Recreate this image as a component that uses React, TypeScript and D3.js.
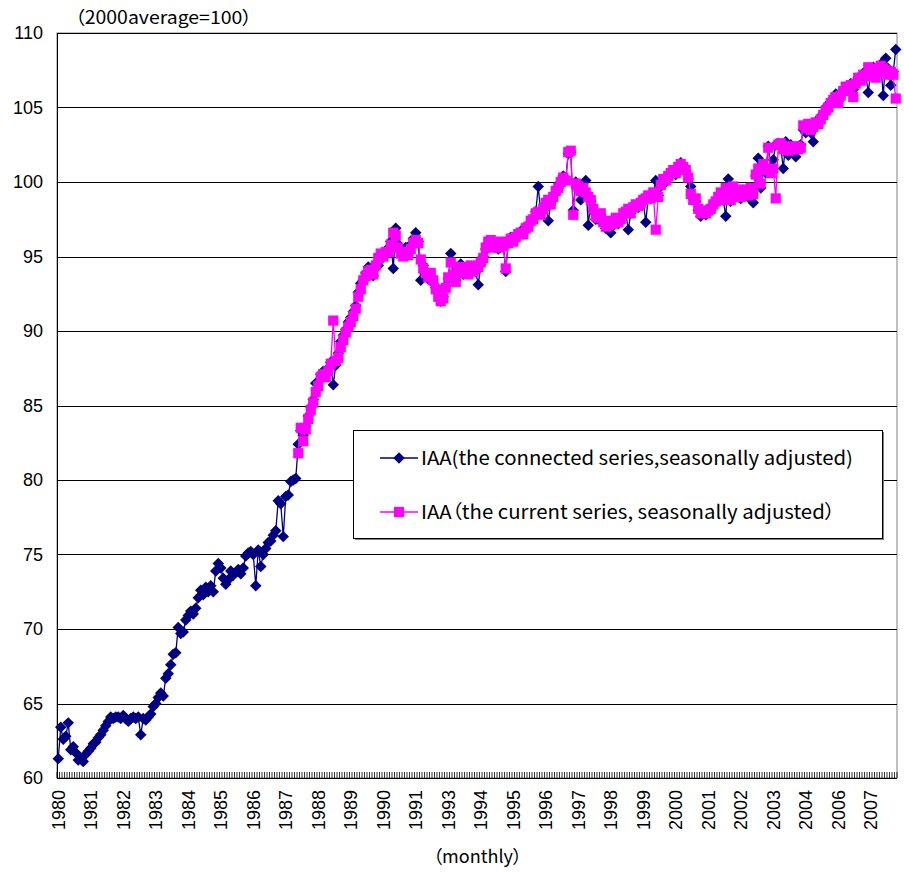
import React from "react";
import * as d3 from "d3";

const startYear = 1980;
const endYear = 2007;
const monthIndex = d3.range((endYear - startYear + 1) * 12);
const categoryYear = monthIndex.map((i) => startYear + Math.floor(i / 12));
const labelEvery = 13;

// IAA (the connected series, seasonally adjusted), 1980-01 .. 2007-12
const connected: number[] = [
  // 1980
  61.3, 63.4, 62.6, 62.8, 63.7, 61.9, 62.1, 61.7, 61.2, 61.3, 61.1, 61.6,
  // 1981
  61.8, 62.0, 62.3, 62.4, 62.7, 62.9, 63.2, 63.5, 63.8, 64.1, 64.0, 64.1,
  // 1982
  64.1, 64.0, 64.2, 64.0, 63.8, 64.0, 64.1, 64.0, 64.1, 62.9, 64.0, 63.9,
  // 1983
  64.1, 64.3, 64.8, 65.0, 65.4, 65.7, 65.5, 66.7, 67.0, 67.6, 68.3, 68.4,
  // 1984
  70.1, 69.7, 69.8, 70.6, 70.9, 71.2, 71.0, 71.4, 72.1, 72.6, 72.3, 72.8,
  // 1985
  72.5, 72.9, 72.5, 73.9, 74.4, 74.1, 73.4, 73.0, 73.3, 73.9, 73.6, 73.8,
  // 1986
  74.0, 73.7, 74.1, 74.9, 75.1, 75.2, 75.0, 72.9, 75.3, 74.2, 75.0, 75.4,
  // 1987
  75.8, 75.9, 76.3, 76.6, 78.6, 78.4, 76.2, 78.9, 79.0, 79.9, 80.0, 80.1,
  // 1988
  82.4, 83.3, 83.0, 83.6, 84.3, 84.9, 85.4, 86.5, 86.6, 87.1, 87.3, 87.2,
  // 1989
  87.5, 87.9, 86.4, 87.7, 88.5, 89.3, 89.7, 90.1, 90.6, 90.9, 91.3, 91.7,
  // 1990
  92.6, 93.2, 93.4, 93.9, 94.3, 94.0, 93.7, 94.5, 94.4, 94.8, 95.1, 95.4,
  // 1991
  95.5, 96.0, 94.2, 96.9, 95.8, 95.3, 95.2, 95.6, 95.4, 95.8, 96.2, 96.6,
  // 1992
  96.0, 93.4, 94.4, 93.8, 93.5, 93.7, 93.2, 92.9, 92.6, 92.0, 92.3, 93.0,
  // 1993
  93.5, 95.2, 93.7, 93.4, 94.2, 94.5, 93.8, 94.0, 94.1, 94.3, 94.1, 94.0,
  // 1994
  93.1, 94.5, 95.0, 95.5, 95.9, 96.0, 95.7, 95.6, 95.5, 95.9, 95.8, 94.0,
  // 1995
  96.0, 96.3, 96.1, 96.4, 96.5, 96.7, 96.6, 96.8, 97.1, 97.3, 97.6, 98.0,
  // 1996
  99.7, 97.9, 98.1, 98.5, 97.4, 98.6, 99.1, 99.3, 99.6, 100.0, 100.4, 100.2,
  // 1997
  101.9, 102.0, 98.1, 100.0, 99.6, 98.8, 99.3, 100.1, 97.1, 98.7, 98.0, 97.5,
  // 1998
  97.5, 97.8, 97.2, 96.9, 97.0, 96.6, 97.1, 97.4, 97.2, 97.6, 97.8, 97.9,
  // 1999
  96.8, 97.9, 98.2, 98.4, 98.3, 98.5, 98.7, 97.3, 99.0, 98.9, 99.2, 100.1,
  // 2000
  99.1, 99.7, 100.1, 100.0, 100.3, 100.5, 100.7, 100.5, 100.9, 101.3, 101.1, 100.7,
  // 2001
  100.2, 99.7, 98.9, 98.7, 98.1, 97.7, 97.9, 97.8, 98.0, 98.1, 98.4, 98.6,
  // 2002
  98.9, 99.2, 98.8, 97.7, 100.2, 98.7, 99.6, 99.2, 99.0, 98.9, 99.4, 99.1,
  // 2003
  99.0, 99.5, 98.6, 100.4, 101.6, 99.6, 101.0, 100.6, 102.4, 100.9, 101.5, 102.5,
  // 2004
  102.6, 102.4, 100.9, 102.7, 101.8, 102.5, 102.3, 101.7, 102.4, 102.5, 103.5, 103.3,
  // 2005
  103.5, 103.3, 102.7, 103.8, 104.2, 104.4, 104.6, 105.0, 105.2, 105.4, 105.6, 105.9,
  // 2006
  105.4, 105.9, 106.2, 106.3, 106.4, 106.6, 106.2, 106.7, 107.0, 106.9, 107.3, 107.2,
  // 2007
  106.0, 107.5, 107.7, 107.2, 107.5, 107.9, 105.8, 108.3, 107.6, 106.5, 107.4, 108.9,
];

// IAA (the current series, seasonally adjusted), 1988-01 .. 2007-12
const currentStart = 96;
const current: number[] = [
  // 1988
  81.8, 83.5, 82.6, 83.4, 84.1, 84.7, 85.2, 85.9, 86.3, 86.9, 87.1, 86.9,
  // 1989
  87.3, 87.8, 90.7, 88.0, 88.2, 88.9, 89.4, 89.9, 90.3, 90.6, 91.0, 91.5,
  // 1990
  92.3, 92.8, 93.4, 93.7, 94.0, 94.1, 93.8, 94.4, 94.9, 95.2, 95.0, 95.3,
  // 1991
  95.3, 95.8, 96.6, 96.4, 95.6, 95.2, 95.0, 95.3, 95.1, 95.5, 95.9, 96.1,
  // 1992
  95.9, 94.8, 94.2, 93.9, 93.6, 93.9, 93.4, 92.8, 92.3, 92.0, 92.2, 92.9,
  // 1993
  93.6, 94.6, 93.8, 93.3, 94.1, 94.3, 93.9, 94.2, 93.8, 94.4, 94.0, 94.2,
  // 1994
  94.3, 94.6, 94.9, 95.6, 96.0, 96.1, 95.6, 95.8, 95.6, 96.0, 95.7, 94.2,
  // 1995
  95.9, 96.2, 96.0, 96.3, 96.5, 96.6, 96.5, 96.9, 97.0, 97.4, 97.5, 97.9,
  // 1996
  98.0, 97.8, 98.2, 98.6, 98.8, 98.5, 99.0, 99.4, 99.6, 100.0, 100.3, 100.1,
  // 1997
  102.0, 102.1, 97.8, 99.9, 99.7, 99.4, 99.6, 99.3, 99.0, 98.8, 98.2, 97.7,
  // 1998
  97.6, 97.9, 97.3, 97.0, 97.1, 97.4, 97.2, 97.6, 97.3, 97.5, 97.9, 98.0,
  // 1999
  98.2, 97.9, 98.3, 98.5, 98.4, 98.6, 98.8, 98.9, 99.1, 98.9, 99.3, 96.8,
  // 2000
  99.0, 99.8, 100.2, 100.1, 100.4, 100.6, 100.8, 100.6, 101.0, 101.2, 101.0, 100.8,
  // 2001
  100.3, 99.2, 98.8, 98.9, 98.2, 97.9, 98.0, 97.9, 98.1, 98.2, 98.5, 98.7,
  // 2002
  99.0, 99.3, 98.8, 99.6, 99.3, 98.8, 99.7, 99.3, 99.1, 99.0, 99.5, 99.2,
  // 2003
  99.1, 99.6, 99.2, 100.5, 100.9, 99.9, 101.2, 100.8, 102.3, 100.6, 100.9, 98.9,
  // 2004
  102.5, 102.6, 102.2, 102.4, 102.1, 102.3, 102.2, 102.4, 102.2, 102.3, 103.8, 103.6,
  // 2005
  103.9, 103.5, 103.7, 104.0, 103.9, 104.2, 104.5, 104.8, 105.0, 105.3, 105.5, 105.7,
  // 2006
  105.3, 105.8, 106.1, 106.4, 106.2, 106.5, 105.7, 106.6, 107.0, 106.8, 107.2, 107.1,
  // 2007
  107.7, 107.4, 107.6, 107.0, 107.4, 107.8, 107.6, 107.5, 107.2, 107.4, 107.2, 105.6,
];

const yTicks = [60, 65, 70, 75, 80, 85, 90, 95, 100, 105, 110];
const unitLabel = "（2000average=100）";
const xTitle = "（monthly）";
const legendConnected = "IAA(the connected series,seasonally adjusted)";
const legendCurrent = "IAA（the current series, seasonally adjusted）";

const NAVY = "#000080";
const MAGENTA = "#FF00FF";
const FONT = "'Noto Sans CJK JP', 'Liberation Sans', sans-serif";
const NUMFONT = "'Liberation Sans', Arial, sans-serif";
const palt = { fontFeatureSettings: '"palt"' } as React.CSSProperties;

export default function App() {
  const W = 904;
  const H = 873;
  const L = 57, R = 897, T = 33, B = 778;

  const x = d3.scaleBand<number>().domain(monthIndex).range([L, R]).padding(0);
  const cx = (i: number) => (x(i) as number) + x.bandwidth() / 2;
  const y = d3.scaleLinear().domain([60, 110]).range([B, T]);

  const connPts = connected.map((v, i) => ({ i, v }));
  const curPts = current.map((v, k) => ({ i: k + currentStart, v }));

  const line = d3
    .line<{ i: number; v: number }>()
    .x((d) => cx(d.i))
    .y((d) => y(d.v));

  const labelIdx = monthIndex.filter((i) => i % labelEvery === 0);
  const diamond = d3.symbol().type(d3.symbolDiamond2).size(84)();
  const square = d3.symbol().type(d3.symbolSquare).size(104)();

  const legX = 353, legY = 430, legW = 529, legH = 108;

  return (
    <svg width={W} height={H} style={{ display: "block", position: "absolute", left: 0, top: 0 }} fontFamily={FONT}>
      <rect x={0} y={0} width={W} height={H} fill="#fff" />
      <rect x={L} y={T} width={R - L} height={B - T} fill="#fff" stroke="#808080" strokeWidth={1} />
      {yTicks.map((t) => (
        <line key={"g" + t} x1={L} x2={R} y1={Math.round(y(t)) + 0.5} y2={Math.round(y(t)) + 0.5} stroke="#000" strokeWidth={1} />
      ))}
      {d3.range(monthIndex.length + 1).map((k) => {
        const xx = L + k * x.bandwidth();
        return <line key={"mt" + k} x1={xx} x2={xx} y1={B - 6} y2={B} stroke="#000" strokeWidth={0.8} />;
      })}
      <line x1={L + 0.5} x2={L + 0.5} y1={T} y2={B} stroke="#000" strokeWidth={1} />
      <line x1={L} x2={R} y1={B + 0.5} y2={B + 0.5} stroke="#000" strokeWidth={1} />
      {yTicks.map((t) => (
        <text key={"yl" + t} x={43} y={y(t)} dy="0.36em" textAnchor="end" fontSize={18} fontFamily={NUMFONT}>
          {t}
        </text>
      ))}
      {labelIdx.map((i) => (
        <text
          key={"xl" + i}
          transform={`translate(${cx(i) + 6.5},${B + 12}) rotate(-90)`}
          textAnchor="end"
          fontSize={18}
          fontFamily={NUMFONT}
        >
          {categoryYear[i]}
        </text>
      ))}
      <text x={75} y={24} fontSize={18} style={palt} textLength={177} lengthAdjust="spacingAndGlyphs">{unitLabel}</text>
      <text x={433} y={863} fontSize={18} style={palt} textLength={89} lengthAdjust="spacingAndGlyphs">{xTitle}</text>

      <path d={line(connPts) || ""} fill="none" stroke={NAVY} strokeWidth={1.3} />
      {connPts.map((d) => (
        <path key={"c" + d.i} d={diamond || ""} transform={`translate(${cx(d.i)},${y(d.v)})`} fill={NAVY} />
      ))}
      <path d={line(curPts) || ""} fill="none" stroke={MAGENTA} strokeWidth={1.3} />
      {curPts.map((d) => (
        <path key={"m" + d.i} d={square || ""} transform={`translate(${cx(d.i)},${y(d.v)})`} fill={MAGENTA} />
      ))}

      <rect x={legX + 2} y={legY + 2} width={legW} height={legH} fill="#808080" />
      <rect x={legX + 0.5} y={legY + 0.5} width={legW} height={legH} fill="#fff" stroke="#000" strokeWidth={1} />
      <line x1={380} x2={418} y1={legY + 28} y2={legY + 28} stroke={NAVY} strokeWidth={1.5} />
      <path d={diamond || ""} transform={`translate(399,${legY + 28})`} fill={NAVY} />
      <text x={421} y={legY + 28} dy="0.36em" fontSize={19} style={palt} textLength={432} lengthAdjust="spacingAndGlyphs">{legendConnected}</text>
      <line x1={380} x2={418} y1={legY + 82} y2={legY + 82} stroke={MAGENTA} strokeWidth={1.5} />
      <path d={square || ""} transform={`translate(399,${legY + 82})`} fill={MAGENTA} />
      <text x={421} y={legY + 82} dy="0.36em" fontSize={19} style={palt} textLength={414} lengthAdjust="spacingAndGlyphs">{legendCurrent}</text>
    </svg>
  );
}
